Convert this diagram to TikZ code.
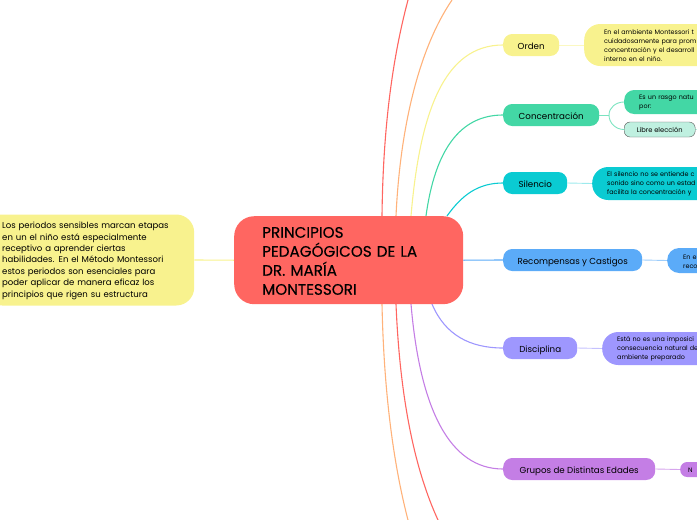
\documentclass[tikz,border=0pt]{standalone}
\usepackage{fontspec}
\setmainfont{Poppins}
\newfontfamily\rootfont[FakeBold=0.25]{Poppins}
\usetikzlibrary{backgrounds}
\definecolor{rootred}{HTML}{FF6661}
\definecolor{lineorange}{HTML}{FFB27A}
\definecolor{noteyellow}{HTML}{F8F28E}
\definecolor{concteal}{HTML}{43D7A5}
\definecolor{libreteal}{HTML}{BFF0E0}
\definecolor{silcyan}{HTML}{0ACBD2}
\definecolor{recblue}{HTML}{5BABF8}
\definecolor{discviolet}{HTML}{9E97FE}
\definecolor{grupurple}{HTML}{C47EE5}
\tikzset{
	topic/.style={anchor=west, rounded corners=9, minimum height=22, inner sep=0, text height=8, text depth=0, align=center, font=\fontsize{8.7}{10}\selectfont},
	note/.style={anchor=west, rounded corners=16, inner ysep=0, align=left, execute at begin node={\rule{0pt}{0.95em}}, font=\fontsize{6.4}{9}\selectfont},
	branch/.style={line width=1.1},
	twig/.style={line width=0.9}
}

\begin{document}
\begin{tikzpicture}[x=1pt, y=-1pt]
		\useasboundingbox (0, 0) rectangle (697, 520);
		\clip (0, 0) rectangle (697, 520);
		%%%%% NODES %%%%%
		\node[anchor=north west, fill=rootred, rounded corners=20, minimum width=229, minimum height=88, inner xsep=28, inner ysep=0, text width=173, align=left, execute at begin node={\rule{0pt}{0.8em}}, font=\fontsize{15.2}{19}\rootfont] (root) at (234, 216) {PRINCIPIOS\\PEDAGÓGICOS DE LA\\DR. MARÍA\\MONTESSORI};
		\node[note, fill=noteyellow, rounded corners=18, minimum height=91, inner xsep=18, text width=174, font=\fontsize{8.55}{11.45}\selectfont] (sensibles) at (-16, 260) {Los periodos sensibles marcan etapas\\en un el niño está especialmente\\receptivo a aprender ciertas\\habilidades.  En el Método Montessori\\estos periodos son esenciales para\\poder aplicar de manera eficaz los\\principios que rigen su estructura};
		
		\node[topic, fill=noteyellow, minimum width=56] (orden) at (503, 45) {Orden};
		\node[note, fill=noteyellow, minimum height=42, inner xsep=20, text width=150] (ordennote) at (584, 45) {En el ambiente Montessori t\\cuidadosamente para prom\\concentración y el desarroll\\interno en el niño.};
		
		\node[topic, fill=concteal, minimum width=96] (conc) at (503, 115) {Concentración};
		\node[note, fill=concteal, rounded corners=10, minimum height=24, inner xsep=15, text width=100] (concnote) at (624, 102) {Es un rasgo natu\\por:};
		\node[anchor=west, draw=black!65, fill=libreteal, rounded corners=6, minimum width=71, minimum height=15, inner sep=0, font=\fontsize{6.7}{9}\selectfont] (libre) at (624, 129.5) {Libre elección};
		\coordinate (libreend) at (697, 129.5);
		\coordinate (concfork) at (609, 115);
		
		\node[topic, fill=silcyan, minimum width=64] (silencio) at (503, 183) {Silencio};
		\node[note, fill=silcyan, minimum height=33, inner xsep=15, text width=150] (silnote) at (592, 183.5) {El silencio no se entiende c\\sonido sino como un estad\\facilita la concentración y};
		
		\node[topic, fill=recblue, minimum width=139] (recomp) at (503, 260) {Recompensas y Castigos};
		\node[note, fill=recblue, rounded corners=12, minimum height=25, inner xsep=16, text width=60] (recnote) at (667, 260.5) {En e\\reco};
		
		\node[topic, fill=discviolet, minimum width=74] (disc) at (503, 348) {Disciplina};
		\node[note, fill=discviolet, minimum height=33, inner xsep=15, text width=150] (discnote) at (602, 348.5) {Está no es una imposici\\consecuencia natural de\\ambiente preparado};
		
		\node[topic, fill=grupurple, minimum width=152] (grupos) at (503, 469) {Grupos de Distintas Edades};
		\node[note, fill=grupurple, rounded corners=7, minimum height=15, inner xsep=8, text width=30] (grunote) at (680, 469.5) {N};
		
		\coordinate (rootorange) at (396, 216);
		\coordinate (rootred) at (382, 216);
		\coordinate (rootorden) at (411, 216);
		\coordinate (rootconc) at (426, 216);
		\coordinate (rootsil) at (447, 216);
		\coordinate (rootdisc) at (432, 304);
		\coordinate (rootgrup) at (411, 304);
		\coordinate (rootredb) at (396, 304);
		\coordinate (rootorangeb) at (382, 304);
		\coordinate (topred) at (408, 0);
		\coordinate (toporange) at (452, 0);
		\coordinate (botred) at (438, 520);
		\coordinate (botorange) at (408, 520);
		
		%%%%% LINES %%%%%
		\begin{scope}[on background layer]
			\draw[branch, rootred] (rootred) .. controls (383, 130) and (392, 60) .. (topred);
			\draw[branch, lineorange] (rootorange) .. controls (400, 130) and (418, 50) .. (toporange);
			\draw[branch, noteyellow] (rootorden) .. controls (420, 110) and (445, 45) .. (orden.west);
			\draw[branch, concteal] (rootconc) .. controls (435, 150) and (460, 115) .. (conc.west);
			\draw[branch, silcyan] (rootsil) .. controls (462, 195) and (478, 183) .. (silencio.west);
			\draw[branch, recblue] (root.east) -- (recomp.west);
			\draw[branch, discviolet] (rootdisc) .. controls (445, 335) and (470, 348) .. (disc.west);
			\draw[branch, grupurple] (rootgrup) .. controls (420, 410) and (450, 469) .. (grupos.west);
			\draw[branch, rootred] (rootredb) .. controls (400, 400) and (415, 470) .. (botred);
			\draw[branch, lineorange] (rootorangeb) .. controls (384, 400) and (395, 470) .. (botorange);
			\draw[branch, noteyellow] (sensibles.east) -- (root.west);
			
			\draw[twig, noteyellow!55] (orden.east) -- (ordennote.west);
			\draw[twig, concteal!70] (conc.east) -- (concfork);
			\draw[twig, concteal!70] (concfork) to[out=90, in=180] (concnote.west);
			\draw[twig, concteal!70] (concfork) to[out=-90, in=180] (libre.west);
			\draw[twig, concteal!40] (libre.east) -- (libreend);
			\draw[twig, silcyan!40] (silencio.east) -- (silnote.west);
			\draw[twig, recblue!60] (recomp.east) -- (recnote.west);
			\draw[twig, discviolet!60] (disc.east) -- (discnote.west);
			\draw[twig, grupurple!70] (grupos.east) -- (grunote.west);
		\end{scope}
		%%%%% END %%%%%
	\end{tikzpicture}
\end{document}
